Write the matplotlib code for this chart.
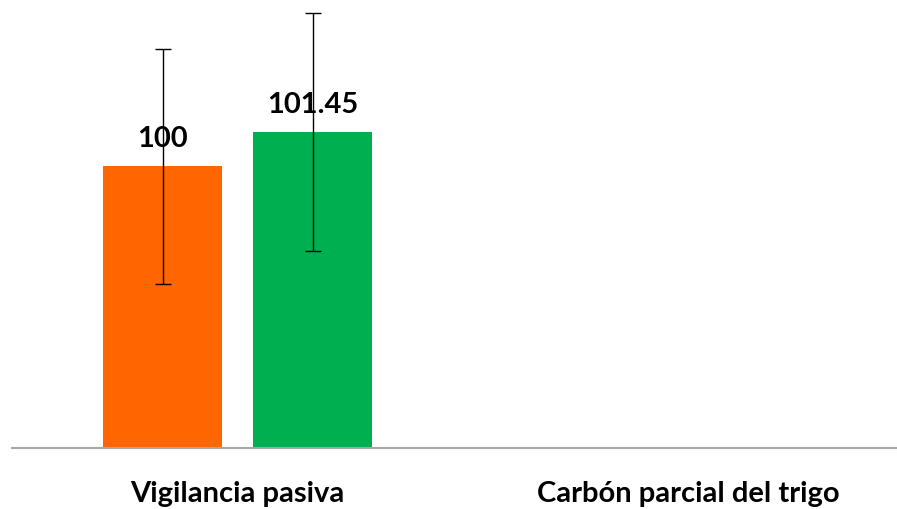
import matplotlib
matplotlib.use("Agg")
import matplotlib.pyplot as plt
import numpy as np

categories = ["Vigilancia pasiva", "Carbón parcial del trigo"]
series_a = [100, None]
series_b = [101.45, None]
err_a = [5.0, None]
err_b = [5.06, None]
labels_a = ["100", ""]
labels_b = ["101.45", ""]
colors = ["#FF6600", "#00B050"]

W, H = 897, 510
fig = plt.figure(figsize=(W / 100, H / 100), dpi=100)
ax = fig.add_axes([12 / W, (H - 449) / H, 902 / W, 446.5 / H])

x = np.arange(len(categories))
width = 0.264
offsets = [-0.166, 0.167]
font = "Lato"

for vals, errs, labs, col, off in [(series_a, err_a, labels_a, colors[0], offsets[0]),
                                     (series_b, err_b, labels_b, colors[1], offsets[1])]:
    for xi, v, e, lab in zip(x, vals, errs, labs):
        if v is None:
            continue
        ax.bar(xi + off, v - 88, bottom=88, width=width, color=col, zorder=2)
        ax.errorbar(xi + off, v, yerr=e, fmt="none", ecolor="black", elinewidth=1,
                    capsize=6, capthick=1, zorder=3)
        ax.annotate(lab, (xi + off, v), xytext=(0, 14.5), textcoords="offset points",
                    ha="center", va="baseline", fontsize=21, fontweight="bold",
                    family=font, zorder=4)

ax.set_xlim(-0.5, 1.5)
ax.set_ylim(88, 107)
ax.set_xticks(x)
ax.set_xticklabels(categories, fontsize=21, fontweight="bold", family=font)
ax.tick_params(axis="x", length=0, pad=23)
ax.set_yticks([])
for s in ["top", "right", "left"]:
    ax.spines[s].set_visible(False)
ax.spines["bottom"].set_color("#A6A6A6")
ax.spines["bottom"].set_linewidth(1.5)

fig.savefig("out.png", dpi=100)
